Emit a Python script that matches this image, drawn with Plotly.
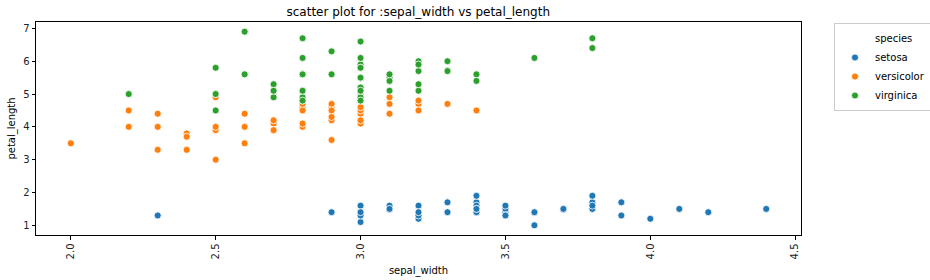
import plotly.graph_objects as go

species_names = ["setosa", "versicolor", "virginica"]
colors = ["#1f77b4", "#ff7f0e", "#2ca02c"]

setosa_sepal_width = [3.5,3.0,3.2,3.1,3.6,3.9,3.4,3.4,2.9,3.1,3.7,3.4,3.0,3.0,4.0,4.4,3.9,3.5,3.8,3.8,
                      3.4,3.7,3.6,3.3,3.4,3.0,3.4,3.5,3.4,3.2,3.1,3.4,4.1,4.2,3.1,3.2,3.5,3.6,3.0,3.4,
                      3.5,2.3,3.2,3.5,3.8,3.0,3.8,3.2,3.7,3.3]
setosa_petal_length = [1.4,1.4,1.3,1.5,1.4,1.7,1.4,1.5,1.4,1.5,1.5,1.6,1.4,1.1,1.2,1.5,1.3,1.4,1.7,1.5,
                       1.7,1.5,1.0,1.7,1.9,1.6,1.6,1.5,1.4,1.6,1.6,1.5,1.5,1.4,1.5,1.2,1.3,1.4,1.3,1.5,
                       1.3,1.3,1.3,1.6,1.9,1.4,1.6,1.4,1.5,1.4]

versicolor_sepal_width = [3.2,3.2,3.1,2.3,2.8,2.8,3.3,2.4,2.9,2.7,2.0,3.0,2.2,2.9,2.9,3.1,3.0,2.7,2.2,2.5,
                          3.2,2.8,2.5,2.8,2.9,3.0,2.8,3.0,2.9,2.6,2.4,2.4,2.7,2.7,3.0,3.4,3.1,2.3,3.0,2.5,
                          2.6,3.0,2.6,2.3,2.7,3.0,2.9,2.9,2.5,2.8]
versicolor_petal_length = [4.7,4.5,4.9,4.0,4.6,4.5,4.7,3.3,4.6,3.9,3.5,4.2,4.0,4.7,3.6,4.4,4.5,4.1,4.5,3.9,
                           4.8,4.0,4.9,4.7,4.3,4.4,4.8,5.0,4.5,3.5,3.8,3.7,3.9,5.1,4.5,4.5,4.7,4.4,4.1,4.0,
                           4.4,4.6,4.0,3.3,4.2,4.2,4.2,4.3,3.0,4.1]

virginica_sepal_width = [3.3,2.7,3.0,2.9,3.0,3.0,2.5,2.9,2.5,3.6,3.2,2.7,3.0,2.5,2.8,3.2,3.0,3.8,2.6,2.2,
                         3.2,2.8,2.8,2.7,3.3,3.2,2.8,3.0,2.8,3.0,2.8,3.8,2.8,2.8,2.6,3.0,3.4,3.1,3.0,3.1,
                         3.1,3.1,2.7,3.2,3.3,3.0,2.5,3.0,3.4,3.0]
virginica_petal_length = [6.0,5.1,5.9,5.6,5.8,6.6,4.5,6.3,5.8,6.1,5.1,5.3,5.5,5.0,5.1,5.3,5.5,6.7,6.9,5.0,
                          5.7,4.9,6.7,4.9,5.7,6.0,4.8,4.9,5.6,5.8,6.1,6.4,5.6,5.1,5.6,6.1,5.6,5.5,4.8,5.4,
                          5.6,5.1,5.1,5.9,5.7,5.2,5.0,5.2,5.4,5.1]

x_ticks = [2.0, 2.5, 3.0, 3.5, 4.0, 4.5]
y_ticks = [1, 2, 3, 4, 5, 6, 7]
legend_title = "species"

xs = [setosa_sepal_width, versicolor_sepal_width, virginica_sepal_width]
ys = [setosa_petal_length, versicolor_petal_length, virginica_petal_length]

font = "DejaVu Sans"
fig = go.Figure()
# seaborn-style legend header: an entry without a visible handle
fig.add_trace(go.Scatter(x=[None], y=[None], mode="markers", name=legend_title,
                         marker=dict(size=7, color="rgba(0,0,0,0)",
                                     line=dict(color="rgba(0,0,0,0)", width=0)),
                         hoverinfo="skip"))
for name, c, x, y in zip(species_names, colors, xs, ys):
    fig.add_trace(go.Scatter(
        x=x, y=y, mode="markers", name=name,
        marker=dict(color=c, size=7, line=dict(color="white", width=0.8)),
    ))

axis_common = dict(
    showgrid=False, zeroline=False, showline=True, linecolor="black", linewidth=1,
    mirror=True, ticks="outside", ticklen=3.5, tickwidth=0.8, tickcolor="black",
    tickfont=dict(family=font, size=10, color="#222"),
)

L, R, T, B = 35.5, 801, 22, 235
fig.update_layout(
    width=930, height=280,
    margin=dict(l=L, r=930 - R, t=T, b=280 - B, autoexpand=False),
    plot_bgcolor="white", paper_bgcolor="white",
    font=dict(family=font, color="black"),
    title=dict(text="scatter plot for :sepal_width vs petal_length",
               font=dict(family=font, size=12, color="black"),
               x=(L + R) / 2 / 930, xanchor="center", y=1 - 12 / 280, yanchor="middle"),
    xaxis=dict(range=[1.88, 4.52], tickvals=x_ticks, ticktext=[f"{v:.1f}" for v in x_ticks],
               tickangle=-90,
               title=dict(text="sepal_width", font=dict(family=font, size=10, color="black"), standoff=8),
               **axis_common),
    yaxis=dict(range=[0.705, 7.195], tickvals=y_ticks,
               title=dict(text="petal_length", font=dict(family=font, size=10, color="black"), standoff=5),
               **axis_common),
    legend=dict(
        x=(834 - L) / (R - L), y=(B - 23) / (B - T), xanchor="left", yanchor="top",
        bordercolor="#cccccc", borderwidth=1, bgcolor="white",
        font=dict(family=font, size=10, color="black"),
        tracegroupgap=0, itemwidth=30,
    ),
)

fig.write_html("out.html")
